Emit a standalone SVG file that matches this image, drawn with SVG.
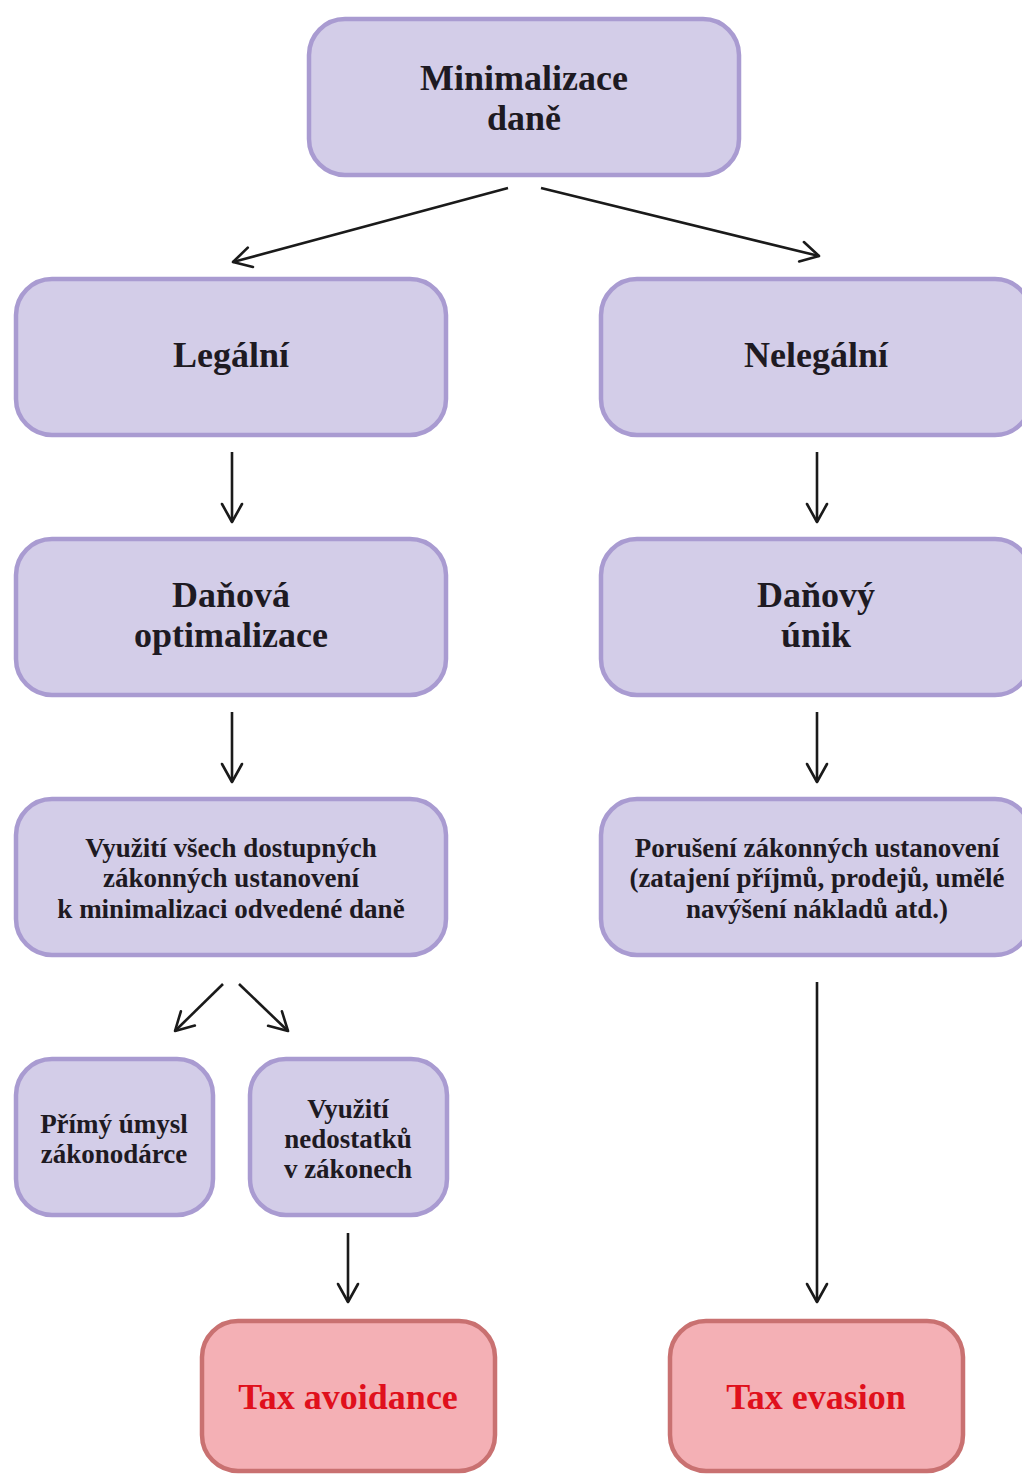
<svg xmlns="http://www.w3.org/2000/svg" width="1022" height="1475" viewBox="0 0 1022 1475">
  <style>
    .node rect { fill: #d3cde8; stroke: #a99bd1; stroke-width: 4.5; }
    .final rect { fill: #f4b0b5; stroke: #c97171; stroke-width: 4.5; }
    text { font-family: "Liberation Serif", "Times New Roman", serif; font-weight: bold; text-anchor: middle; fill: #1e1a22; }
    .big { font-size: 36px; }
    .small { font-size: 27px; }
    .final text { fill: #e0101c; }
    .edges line { stroke: #1a1a1a; stroke-width: 2.6; fill: none; marker-end: url(#head); }
  </style>
  <defs>
    <marker id="head" markerUnits="userSpaceOnUse" markerWidth="40" markerHeight="40" refX="20" refY="20" orient="auto" viewBox="0 0 40 40">
      <path d="M2,10 L20,20 L2,30" fill="none" stroke="#1a1a1a" stroke-width="2.6" stroke-linecap="round" stroke-linejoin="round"/>
    </marker>
  </defs>

  <g id="minimalizace">
    <g class="node"><rect x="309" y="19" width="430" height="156" rx="36"/></g>
    <text class="big" x="524" y="90">Minimalizace</text>
    <text class="big" x="524" y="130">daně</text>
  </g>

  <g id="legalni" class="node">
    <rect x="16" y="279" width="430" height="156" rx="36"/>
    <text class="big" x="231" y="367">Legální</text>
  </g>

  <g id="nelegalni" class="node">
    <rect x="601" y="279" width="430" height="156" rx="36"/>
    <text class="big" x="816" y="367">Nelegální</text>
  </g>

  <g id="danova-optimalizace" class="node">
    <rect x="16" y="539" width="430" height="156" rx="36"/>
    <text class="big" x="231" y="607">Daňová</text>
    <text class="big" x="231" y="647">optimalizace</text>
  </g>

  <g id="danovy-unik" class="node">
    <rect x="601" y="539" width="430" height="156" rx="36"/>
    <text class="big" x="816" y="607">Daňový</text>
    <text class="big" x="816" y="647">únik</text>
  </g>

  <g id="vyuziti-vsech" class="node">
    <rect x="16" y="799" width="430" height="156" rx="36"/>
    <text class="small" x="231" y="857">Využití všech dostupných</text>
    <text class="small" x="231" y="887">zákonných ustanovení</text>
    <text class="small" x="231" y="918">k minimalizaci odvedené daně</text>
  </g>

  <g id="poruseni" class="node">
    <rect x="601" y="799" width="430" height="156" rx="36"/>
    <text class="small" x="817" y="857">Porušení zákonných ustanovení</text>
    <text class="small" x="817" y="887">(zatajení příjmů, prodejů, umělé</text>
    <text class="small" x="817" y="918">navýšení nákladů atd.)</text>
  </g>

  <g id="primy-umysl" class="node">
    <rect x="16" y="1059" width="197" height="156" rx="36"/>
    <text class="small" x="114" y="1133">Přímý úmysl</text>
    <text class="small" x="114" y="1163">zákonodárce</text>
  </g>

  <g id="vyuziti-nedostatku" class="node">
    <rect x="250" y="1059" width="197" height="156" rx="36"/>
    <text class="small" x="348" y="1118">Využití</text>
    <text class="small" x="348" y="1148">nedostatků</text>
    <text class="small" x="348" y="1178">v zákonech</text>
  </g>

  <g id="tax-avoidance" class="final">
    <rect x="202" y="1321" width="293" height="150" rx="36"/>
    <text class="big" x="348" y="1409">Tax avoidance</text>
  </g>

  <g id="tax-evasion" class="final">
    <rect x="670" y="1321" width="293" height="150" rx="36"/>
    <text class="big" x="816" y="1409">Tax evasion</text>
  </g>

  <g id="connectors" class="edges">
    <line x1="508" y1="188" x2="233" y2="262"/>
    <line x1="541" y1="188" x2="819" y2="256"/>
    <line x1="232" y1="452" x2="232" y2="522"/>
    <line x1="817" y1="452" x2="817" y2="522"/>
    <line x1="232" y1="712" x2="232" y2="782"/>
    <line x1="817" y1="712" x2="817" y2="782"/>
    <line x1="223" y1="984" x2="175" y2="1031"/>
    <line x1="239" y1="984" x2="288" y2="1031"/>
    <line x1="348" y1="1233" x2="348" y2="1302"/>
    <line x1="817" y1="982" x2="817" y2="1302"/>
  </g>
</svg>
